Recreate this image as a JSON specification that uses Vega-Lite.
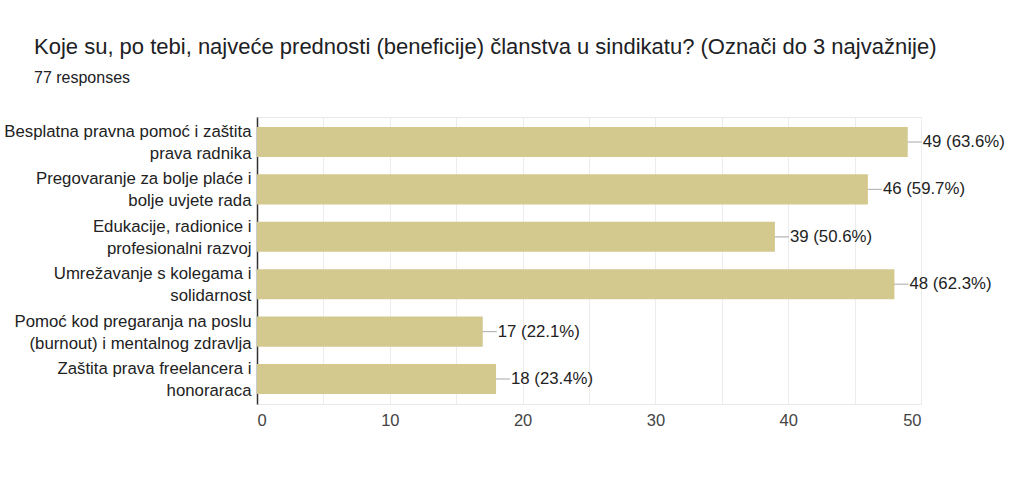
{
  "$schema": "https://vega.github.io/schema/vega-lite/v6.json",
  "width": 664,
  "height": 287,
  "autosize": {"type": "none"},
  "padding": {"left": 257, "top": 117, "right": 103, "bottom": 83},
  "background": "white",
  "config": {
    "font": "Liberation Sans",
    "view": {"stroke": "#e8e8e8"}
  },
  "title": {
    "text": "Koje su, po tebi, najveće prednosti (beneficije) članstva u sindikatu? (Označi do 3 najvažnije)",
    "subtitle": "77 responses",
    "anchor": "start",
    "frame": "group",
    "dx": -223,
    "offset": 30,
    "fontSize": 22,
    "fontWeight": "normal",
    "color": "#202124",
    "subtitleFontSize": 16,
    "subtitleColor": "#202124",
    "subtitlePadding": 11
  },
  "data": {
    "values": [
      {"option": "Besplatna pravna pomoć i zaštita|prava radnika", "count": 49},
      {"option": "Pregovaranje za bolje plaće i|bolje uvjete rada", "count": 46},
      {"option": "Edukacije, radionice i|profesionalni razvoj", "count": 39},
      {"option": "Umrežavanje s kolegama i|solidarnost", "count": 48},
      {"option": "Pomoć kod pregaranja na poslu|(burnout) i mentalnog zdravlja", "count": 17},
      {"option": "Zaštita prava freelancera i|honoraraca", "count": 18}
    ]
  },
  "transform": [
    {"calculate": "datum.count + ' (' + format(datum.count / 77, '.1%') + ')'", "as": "label"}
  ],
  "encoding": {
    "y": {
      "field": "option",
      "type": "nominal",
      "sort": null,
      "title": null,
      "scale": {"paddingInner": 0.364, "paddingOuter": 0.21},
      "axis": {
        "labelExpr": "split(datum.label, '|')",
        "labelFontSize": 16.8,
        "labelColor": "#222222",
        "labelLineHeight": 22,
        "labelBaseline": "middle",
        "labelOffset": -10,
        "labelPadding": 6,
        "labelLimit": 300,
        "ticks": false,
        "domainColor": "#333333",
        "domainWidth": 1.5
      }
    },
    "x": {
      "field": "count",
      "type": "quantitative",
      "title": null,
      "scale": {"domain": [0, 50]},
      "axis": {
        "values": [0, 5, 10, 15, 20, 25, 30, 35, 40, 45, 50],
        "labelExpr": "datum.value % 10 === 0 ? datum.label : ''",
        "labelFontSize": 16.5,
        "labelColor": "#444444",
        "labelPadding": 8,
        "domain": false,
        "ticks": false,
        "gridColor": "#ececec"
      }
    }
  },
  "layer": [
    {
      "mark": {"type": "tick", "orient": "horizontal", "size": 28, "thickness": 1.2, "color": "#999999"}
    },
    {
      "mark": {"type": "bar", "color": "#d3c98e"}
    },
    {
      "mark": {"type": "text", "align": "left", "dx": 15, "fontSize": 16.8, "color": "#222222"},
      "encoding": {"text": {"field": "label"}}
    }
  ]
}
